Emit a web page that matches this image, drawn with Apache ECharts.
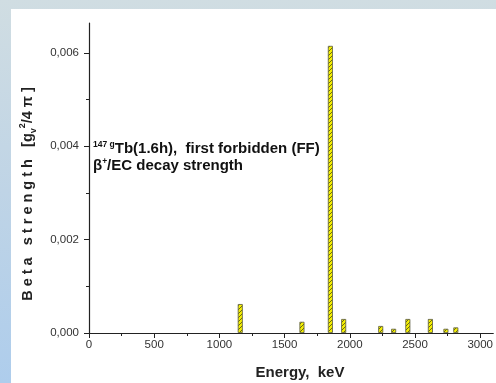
<!DOCTYPE html>
<html>
<head>
<meta charset="utf-8">
<style>
  html, body { margin: 0; padding: 0; }
  body { width: 496px; height: 383px; overflow: hidden; position: relative;
    background: linear-gradient(to bottom, #d0dde2 0%, #bfd4e6 50%, #aecdec 100%); }
  .panel { position: absolute; left: 11px; top: 9px; right: 0; bottom: 0; background: #fff; }
  #chart { position: absolute; left: 0; top: 0; width: 496px; height: 383px; }
</style>
<script src="https://cdn.jsdelivr.net/npm/echarts@6/dist/echarts.min.js"></script>
</head>
<body>
<div class="panel"></div>
<div id="chart"></div>
<script>
  // energies (keV) and beta strengths
  const energies = [1160, 1633, 1851, 1953, 2237, 2336, 2445, 2618, 2737, 2813]
  const strengths = [0.00062, 0.00024, 0.00615, 0.00030, 0.00015, 0.00009, 0.00030, 0.00030, 0.00009, 0.00012]
  const xMajorTicks = [0, 500, 1000, 1500, 2000, 2500, 3000]
  const xMinorTicks = [250, 750, 1250, 1750, 2250, 2750]
  const yMajorTicks = [0, 0.002, 0.004, 0.006]
  const yMinorTicks = [0.001, 0.003, 0.005]

  const font = "'Liberation Sans', Arial, sans-serif"

  // hatched yellow fill
  const hatch = document.createElement('canvas')
  hatch.width = 4
  hatch.height = 4
  const ctx = hatch.getContext('2d')
  ctx.fillStyle = '#f4ef00'
  ctx.fillRect(0, 0, 4, 4)
  ctx.strokeStyle = '#6b6a10'
  ctx.lineWidth = 1
  ctx.beginPath()
  ctx.moveTo(0, 4); ctx.lineTo(4, 0)
  ctx.moveTo(-1, 1); ctx.lineTo(1, -1)
  ctx.moveTo(3, 5); ctx.lineTo(5, 3)
  ctx.stroke()

  const barData = energies.map((e, i) => [e, strengths[i]])

  const chart = echarts.init(document.getElementById('chart'), null, { renderer: 'canvas' })
  chart.setOption({
    animation: false,
    grid: { left: 89, right: 0, top: 23, bottom: 50 },
    xAxis: [
      {
        type: 'value',
        min: 0,
        max: 3100,
        axisLine: { lineStyle: { color: '#222', width: 1.2 } },
        axisTick: { customValues: xMajorTicks, length: 5, lineStyle: { color: '#222' } },
        axisLabel: {
          customValues: xMajorTicks,
          margin: 6,
          fontFamily: font,
          fontSize: 11.5,
          color: '#333',
          formatter: function (v) {
            return String(v)
          }
        },
        splitLine: { show: false }
      },
      {
        type: 'value',
        position: 'bottom',
        min: 0,
        max: 3100,
        axisLine: { show: false },
        axisTick: { show: true, customValues: xMinorTicks, length: 3, lineStyle: { color: '#222' } },
        axisLabel: { show: false },
        splitLine: { show: false }
      }
    ],
    yAxis: [
      {
        type: 'value',
        min: 0,
        max: 0.00664,
        axisLine: { show: true, lineStyle: { color: '#222', width: 1.2 } },
        axisTick: { show: true, customValues: yMajorTicks, length: 5, lineStyle: { color: '#222' } },
        axisLabel: {
          customValues: yMajorTicks,
          margin: 10,
          fontFamily: font,
          fontSize: 11.5,
          color: '#333',
          formatter: function (v) {
            return v.toFixed(3).replace('.', ',')
          }
        },
        splitLine: { show: false }
      },
      {
        type: 'value',
        position: 'left',
        min: 0,
        max: 0.00664,
        axisLine: { show: false },
        axisTick: { show: true, customValues: yMinorTicks, length: 3, lineStyle: { color: '#222' } },
        axisLabel: { show: false },
        splitLine: { show: false }
      }
    ],
    series: [
      {
        type: 'bar',
        xAxisIndex: 0,
        yAxisIndex: 0,
        barWidth: 5,
        data: barData,
        itemStyle: {
          color: { image: hatch, repeat: 'repeat' },
          borderColor: '#5a5a40',
          borderWidth: 0.8
        }
      }
    ],
    graphic: [
      {
        type: 'text',
        x: 28,
        y: 194,
        rotation: Math.PI / 2,
        style: {
          text: '{t|B e t a   s t r e n g t h   [g}{sub|v}{sup|2}{t|/4 π ]}',
          align: 'center',
          verticalAlign: 'middle',
          fill: '#222',
          rich: {
            t: { fontFamily: font, fontWeight: 'bold', fontSize: 14.5, lineHeight: 20, fill: '#222' },
            sup: { fontFamily: font, fontWeight: 'bold', fontSize: 9, verticalAlign: 'top', lineHeight: 20, fill: '#222' },
            sub: { fontFamily: font, fontWeight: 'bold', fontSize: 9, verticalAlign: 'bottom', lineHeight: 20, fill: '#222' }
          }
        }
      },
      {
        type: 'text',
        x: 300,
        y: 373,
        style: {
          text: 'Energy,  keV',
          align: 'center',
          verticalAlign: 'middle',
          fontFamily: font,
          fontWeight: 'bold',
          fontSize: 15,
          fill: '#222'
        }
      },
      {
        type: 'text',
        x: 93,
        y: 149,
        style: {
          text: '{sup|147 g}{b|Tb(1.6h),  first forbidden (FF)}',
          verticalAlign: 'middle',
          rich: {
            b: { fontFamily: font, fontWeight: 'bold', fontSize: 15, lineHeight: 18, fill: '#111' },
            sup: { fontFamily: font, fontWeight: 'bold', fontSize: 8.5, verticalAlign: 'top', lineHeight: 18, fill: '#111' }
          }
        }
      },
      {
        type: 'text',
        x: 93,
        y: 166,
        style: {
          text: '{b|β}{sup|+}{b|/EC decay strength}',
          verticalAlign: 'middle',
          rich: {
            b: { fontFamily: font, fontWeight: 'bold', fontSize: 15, lineHeight: 18, fill: '#111' },
            sup: { fontFamily: font, fontWeight: 'bold', fontSize: 8.5, verticalAlign: 'top', lineHeight: 18, fill: '#111' }
          }
        }
      }
    ]
  })
</script>
</body>
</html>
